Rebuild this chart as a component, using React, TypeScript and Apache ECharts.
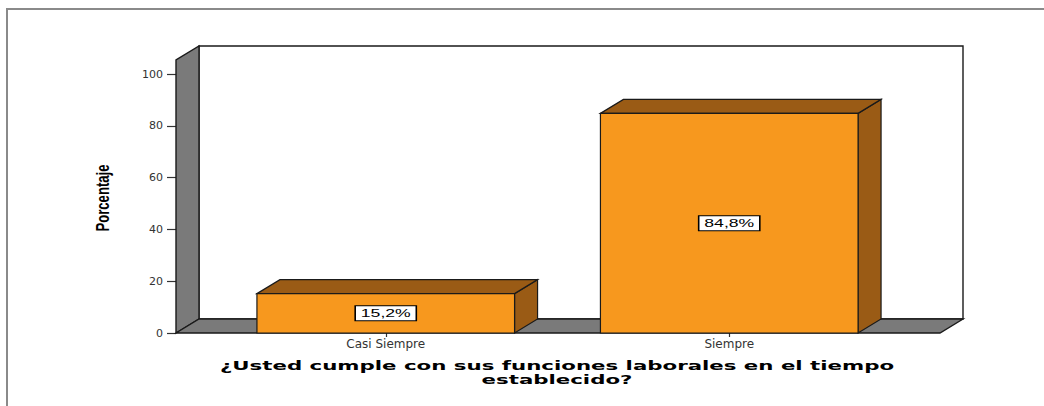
import React, { useEffect, useRef } from "react";
import * as echarts from "echarts";

const categories = ["Casi Siempre", "Siempre"];
const percentages = [15.2, 84.8];
const valueLabels = ["15,2%", "84,8%"];
const yMin = 0;
const yMax = 100;
const yInterval = 20;
const yAxisTitle = "Porcentaje";
const xAxisTitle = "¿Usted cumple con sus funciones laborales en el tiempo\nestablecido?";

const DX = 23;
const DY = -14;
const WALL_GREY = "#7a7a7a";
const FRONT = "#f7981e";
const SIDE = "#9a5b15";
const EDGE = "#1a1a1a";

export default function App() {
  const ref = useRef<HTMLDivElement>(null);

  useEffect(() => {
    if (!ref.current) return;
    const chart = echarts.init(ref.current, null, { renderer: "svg" });

    const wallRender = (params: any, api: any) => {
      const cs = params.coordSys;
      const y0 = api.coord([0, 0])[1];
      const left = cs.x - 38;
      const right = cs.x + cs.width + 39;
      const top = cs.y - 14;
      const lineStyle = { stroke: EDGE, lineWidth: 1.4 };
      return {
        type: "group",
        children: [
          {
            type: "polygon",
            shape: {
              points: [
                [left + DX, top + DY],
                [right + DX, top + DY],
                [right + DX, y0 + DY],
                [left + DX, y0 + DY],
              ],
            },
            style: { fill: "#ffffff", ...lineStyle },
          },
          {
            type: "polygon",
            shape: {
              points: [
                [left, y0],
                [left, top],
                [left + DX, top + DY],
                [left + DX, y0 + DY],
              ],
            },
            style: { fill: WALL_GREY, ...lineStyle },
          },
          {
            type: "polygon",
            shape: {
              points: [
                [left, y0],
                [left + DX, y0 + DY],
                [right + DX, y0 + DY],
                [right, y0],
              ],
            },
            style: { fill: WALL_GREY, ...lineStyle },
          },
        ],
      };
    };

    const barRender = (params: any, api: any) => {
      const idx = api.value(0);
      const val = api.value(1);
      const [cx, yt] = api.coord([idx, val]);
      const y0 = api.coord([idx, 0])[1];
      const band = api.size([1, 0])[0];
      const w = band * 0.75;
      const x0 = cx - w / 2;
      const x1 = cx + w / 2;
      const lineStyle = { stroke: EDGE, lineWidth: 1.2 };
      return {
        type: "group",
        children: [
          {
            type: "polygon",
            shape: {
              points: [
                [x1, yt],
                [x1 + DX, yt + DY],
                [x1 + DX, y0 + DY],
                [x1, y0],
              ],
            },
            style: { fill: SIDE, ...lineStyle },
          },
          {
            type: "polygon",
            shape: {
              points: [
                [x0, yt],
                [x0 + DX, yt + DY],
                [x1 + DX, yt + DY],
                [x1, yt],
              ],
            },
            style: { fill: SIDE, ...lineStyle },
          },
          {
            type: "rect",
            shape: { x: x0, y: yt, width: w, height: y0 - yt },
            style: { fill: FRONT, ...lineStyle },
          },
          {
            type: "text",
            x: cx,
            y: (yt + y0) / 2,
            scaleX: 1.6,
            style: {
              text: valueLabels[params.dataIndex],
              fontSize: 11,
              fontFamily: "Liberation Sans, Arial, sans-serif",
              fill: "#000",
              align: "center",
              verticalAlign: "middle",
              textAlign: "center",
              textVerticalAlign: "middle",
              backgroundColor: "#fff",
              borderColor: "#000",
              borderWidth: 1,
              padding: [2, 3, 1, 3],
            },
          },
        ],
      };
    };

    chart.setOption({
      animation: false,
      grid: { left: 214, right: 143, top: 74, bottom: 73, containLabel: false },
      xAxis: {
        type: "category",
        data: categories,
        axisLine: { show: false },
        axisTick: { show: true, alignWithLabel: true, length: 4, lineStyle: { color: "#333", width: 1.2 } },
        axisLabel: {
          color: "#333",
          fontSize: 12,
          fontFamily: "DejaVu Sans, sans-serif",
          margin: 5,
        },
        splitLine: { show: false },
      },
      yAxis: {
        type: "value",
        min: yMin,
        max: yMax,
        interval: yInterval,
        offset: 38,
        axisLine: { show: false },
        axisTick: { show: true, length: 9, lineStyle: { color: "#333", width: 1.2 } },
        axisLabel: {
          color: "#333",
          fontSize: 11,
          fontFamily: "DejaVu Sans, sans-serif",
          margin: 13,
        },
        splitLine: { show: false },
      },
      graphic: [
        {
          type: "polyline",
          shape: { points: [[7, 406], [7, 9], [1044, 9]] },
          style: { stroke: "#8a8a8a", lineWidth: 2, fill: "none" },
          silent: true,
        },
        {
          type: "text",
          x: 103,
          y: 198,
          rotation: Math.PI / 2,
          scaleX: 0.73,
          style: {
            text: yAxisTitle,
            fontSize: 18,
            fontWeight: "bold",
            fontFamily: "Liberation Sans, Arial, sans-serif",
            fill: "#000",
            textAlign: "center",
            textVerticalAlign: "middle",
            align: "center",
            verticalAlign: "middle",
          },
        },
        {
          type: "text",
          x: 557,
          y: 373,
          scaleX: 1.64,
          style: {
            text: xAxisTitle,
            fontSize: 13,
            fontWeight: "bold",
            fontFamily: "DejaVu Sans, sans-serif",
            fill: "#000",
            lineHeight: 14,
            textAlign: "center",
            textVerticalAlign: "middle",
            align: "center",
            verticalAlign: "middle",
          },
        },
      ],
      series: [
        {
          type: "custom",
          name: "walls",
          renderItem: wallRender,
          data: [[0, 0]],
          z: 1,
          silent: true,
        },
        {
          type: "custom",
          name: "Porcentaje",
          renderItem: barRender,
          data: percentages.map((v, i) => [i, v]),
          z: 2,
          silent: true,
        },
      ],
    });

    return () => chart.dispose();
  }, []);

  return (
    <div
      ref={ref}
      style={{ position: "absolute", left: 0, top: 0, width: 1044, height: 406 }}
    />
  );
}
